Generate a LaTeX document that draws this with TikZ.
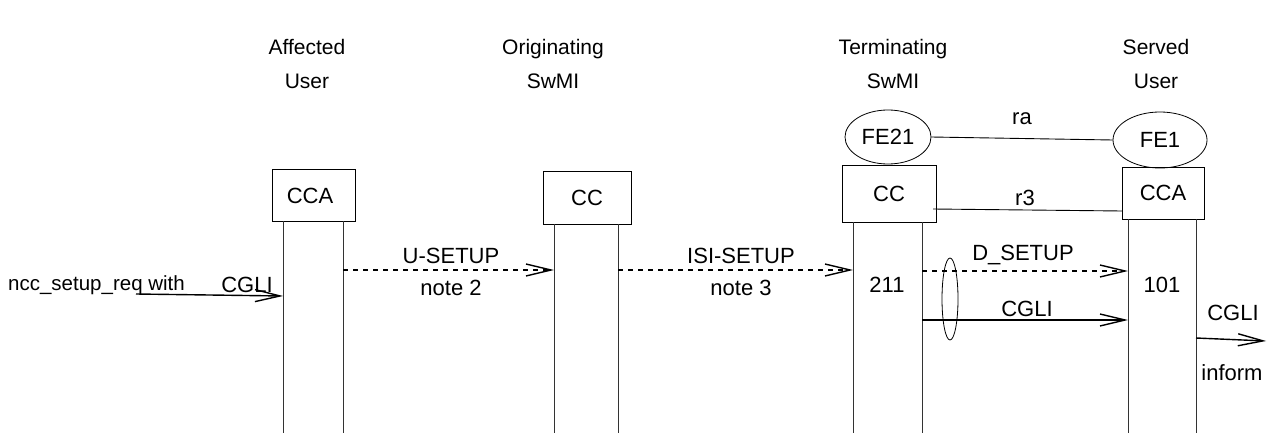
\documentclass[tikz,border=0pt]{standalone}
\usepackage{fontspec}
\setmainfont{Liberation Sans}
\usetikzlibrary{arrows.meta,shapes.geometric}
\begin{document}
\begin{tikzpicture}[x=1pt,y=-1pt,
  every node/.style={font=\fontsize{22}{26}\selectfont, inner sep=0pt},
  title/.style={align=center, font=\fontsize{21}{34}\selectfont},
  fbox/.style={draw, line width=0.9pt, inner sep=0pt},
  fe/.style={draw, ellipse, line width=0.8pt, inner sep=0pt},
  life/.style={line width=0.9pt, draw=black!80},
  link/.style={line width=0.9pt},
  msg/.style={line width=1.4pt, -{Straight Barb[length=25pt,width=12pt,line width=1.4pt]}},
  dmsg/.style={msg, dash pattern=on 5pt off 5pt}]
\useasboundingbox (0,0) rectangle (1268,433);

% titles
\node[title] (t1) at (307,64) {Affected\\User};
\node[title] (t2) at (553,64) {Originating\\SwMI};
\node[title] (t3) at (893,64) {Terminating\\SwMI};
\node[title] (t4) at (1156,64) {Served\\User};

% boxes
\node[fbox, minimum width=83, minimum height=52] (b1) at (313.5,195) {};
\node (b1t) at (310,196) {CCA};
\node[fbox, minimum width=88, minimum height=53] (b2) at (587,197.5) {CC};
\node[fbox, minimum width=94, minimum height=57] (b3) at (889,193.5) {CC};
\node[fbox, minimum width=82, minimum height=52] (b4) at (1163,193) {CCA};

% FE ellipses
\node[fe, minimum width=86, minimum height=54] (fe21) at (888,137) {FE21};
\node[fe, minimum width=94, minimum height=56] (fe1) at (1160,140) {FE1};

% lifelines
\coordinate (l1a) at (283,221); \coordinate (l1b) at (343,221);
\coordinate (l2a) at (554,224); \coordinate (l2b) at (618,224);
\coordinate (l3a) at (853,222); \coordinate (l3b) at (922,222);
\coordinate (l4a) at (1128,219); \coordinate (l4b) at (1196,219);
\foreach \c in {l1a,l1b,l2a,l2b,l3a,l3b,l4a,l4b}{
  \draw[life] (\c) -- (\c |- 0,433);
}

% ra and r3 links
\draw[link] (fe21.east) -- node[above=13pt] (ra) {ra} (fe1.west);
\coordinate (r3s) at (933,209);
\coordinate (r3e) at (1122,211);
\draw[link] (r3s) -- (r3e);
\node (r3) at (1025,198) {r3};

% incoming message
\coordinate (in0) at (136,294);
\coordinate (in1) at (283,296);
\draw[msg] (in0) -- (in1);
\node[anchor=west, font=\fontsize{20.5}{24}\selectfont] (ncc) at (8,285) {ncc\_setup\_req with};
\node (cg0) at (247,285) {CGLI};

% U-SETUP
\coordinate (u0) at (343,270); \coordinate (u1) at (554,270);
\draw[dmsg] (u0) -- (u1);
\node (us) at (451,256) {U-SETUP};
\node (n2) at (451,288) {note 2};

% ISI-SETUP
\coordinate (i0) at (618,270); \coordinate (i1) at (853,270);
\draw[dmsg] (i0) -- (i1);
\node (is) at (741,256) {ISI-SETUP};
\node (n3) at (741,288) {note 3};

\node (n211) at (887,285) {211};
\node (n101) at (1162,285) {101};

% D_SETUP
\coordinate (d0) at (922,271); \coordinate (d1) at (1128,271);
\draw[dmsg] (d0) -- (d1);
\node (ds) at (1023,255) {D\_SETUP};

% CGLI
\coordinate (c0) at (922,320); \coordinate (c1) at (1128,320);
\draw[msg] (c0) -- (c1);
\node (cg1) at (1027,309) {CGLI};

% grouping ellipse
\node[draw, ellipse, line width=0.8pt, minimum width=16, minimum height=82] (grp) at (950,299) {};

% outgoing CGLI
\coordinate (o0) at (1196,338); \coordinate (o1) at (1266,341);
\draw[msg] (o0) -- (o1);
\node (cg2) at (1233,313) {CGLI};
\node (inf) at (1232,373) {inform};
\end{tikzpicture}
\end{document}
